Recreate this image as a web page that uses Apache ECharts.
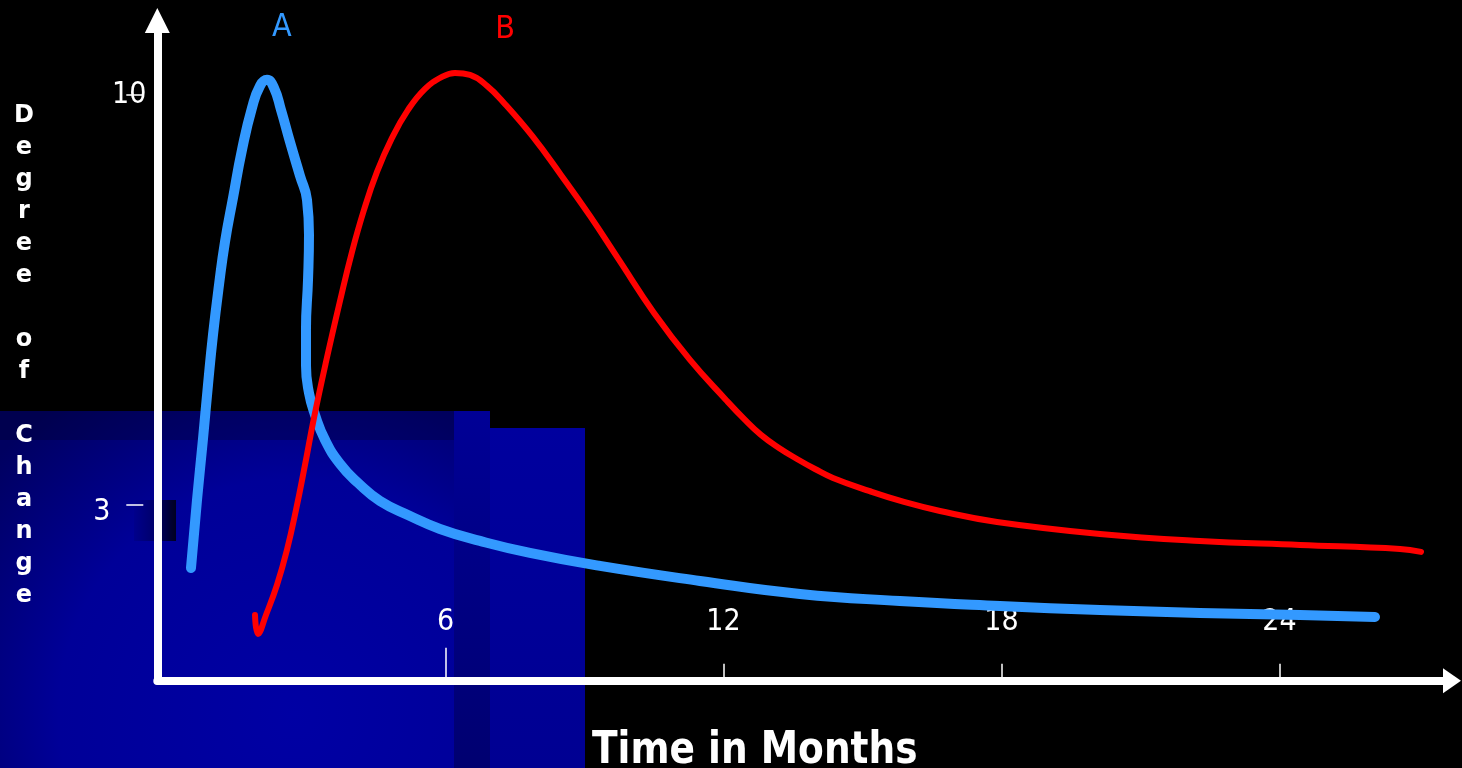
<!DOCTYPE html>
<html>
<head>
<meta charset="utf-8">
<script src="https://cdn.jsdelivr.net/npm/echarts@6/dist/echarts.min.js"></script>
<style>
html,body{margin:0;padding:0;background:#000;}
#chart{width:1462px;height:768px;}
</style>
</head>
<body>
<div id="chart"></div>
<script>
// ---- data ----
const curveNames = ['A', 'B'];
const aMonths = [0.507,0.637,0.766,0.874,0.982,1.112,1.241,1.414,1.608,1.824,1.997,2.148,2.299,2.450,2.644,2.860,3.011,3.054,3.033,2.989,2.989,3.054,3.184,3.400,3.724,4.112,4.587,5.235,5.882,6.745,7.824,9.335,11.493,13.651,15.810,17.968,20.127,22.285,24.444,26.063];
const aDegree = [1.924,3.085,4.127,5.049,5.903,6.757,7.491,8.242,9.062,9.779,10.155,10.257,10.120,9.745,9.198,8.618,8.208,7.611,6.842,5.988,5.391,4.913,4.538,4.111,3.701,3.376,3.069,2.813,2.591,2.386,2.181,1.959,1.703,1.481,1.361,1.276,1.208,1.157,1.122,1.088];
const bMonths = [1.889,1.953,2.126,2.363,2.578,2.774,2.968,3.162,3.421,3.724,3.982,4.241,4.522,4.846,5.191,5.558,5.925,6.205,6.529,6.896,7.263,7.889,8.493,9.119,9.745,10.501,11.278,12.055,12.444,12.810,13.199,13.587,13.976,14.364,15.141,15.897,16.674,17.904,20.127,22.285,24.444,26.603,27.056];
const bDegree = [1.122,0.797,1.122,1.634,2.231,2.914,3.683,4.485,5.441,6.483,7.319,8.036,8.685,9.266,9.744,10.102,10.307,10.375,10.342,10.154,9.863,9.283,8.634,7.934,7.183,6.278,5.476,4.793,4.469,4.196,3.973,3.785,3.614,3.461,3.239,3.051,2.897,2.710,2.505,2.385,2.317,2.249,2.198];
const xTickValues = [6, 12, 18, 24];
const yTickValues = [3, 10];
const curveLabelPos = [[2.47, 11.14], [7.29, 11.11]];
const xTitle = 'Time in Months';
const yTitle = 'Degree of Change';

// ---- build ----
const pairs = (xs, ys) => xs.map((x, i) => [x, ys[i]]);
const X_MIN = -0.22, X_MAX = 27.725, Y_MIN = 0, Y_MAX = 11.27;
const labelFont = '"DejaVu Sans Condensed", "DejaVu Sans", sans-serif';

const chart = echarts.init(document.getElementById('chart'));
const stacked = yTitle.split('').map(c => c === ' ' ? '' : c).join('\n');

chart.setOption({
  backgroundColor: '#000000',
  animation: false,
  grid: { left: 157.3, right: 10, top: 20.5, bottom: 87.3 },
  graphic: [
    { type: 'rect', z: -10, shape: { x: 0, y: 411, width: 490, height: 357 },
      style: { fill: new echarts.graphic.RadialGradient(0.6, 0.85, 1.1, [
        { offset: 0, color: '#0000a4' }, { offset: 0.6, color: '#000098' }, { offset: 1, color: '#000060' }]) } },
    { type: 'rect', z: -10, shape: { x: 0, y: 411, width: 490, height: 29 },
      style: { fill: 'rgba(0,0,40,0.3)' } },
    { type: 'rect', z: -9, shape: { x: 454, y: 411, width: 36, height: 357 },
      style: { fill: new echarts.graphic.LinearGradient(0, 0, 0, 1, [
        { offset: 0, color: '#000096' }, { offset: 1, color: '#000070' }]) } },
    { type: 'rect', z: -10, shape: { x: 490, y: 428, width: 95, height: 340 },
      style: { fill: new echarts.graphic.LinearGradient(0, 0, 0, 1, [
        { offset: 0, color: '#00009e' }, { offset: 1, color: '#000092' }]) } },
    { type: 'rect', z: -8, shape: { x: 134, y: 500, width: 42, height: 41 },
      style: { fill: new echarts.graphic.LinearGradient(0, 0, 1, 0, [
        { offset: 0, color: '#00008c' }, { offset: 0.5, color: '#00006a' }, { offset: 1, color: '#000020' }]) } },
    { type: 'text', z: 20, x: 24, y: 100,
      style: { text: stacked, fill: '#ffffff', font: 'bold 24px "DejaVu Sans", sans-serif',
        lineHeight: 32, align: 'center', verticalAlign: 'top' } },
    { type: 'text', z: 20, x: 592, y: 752, scaleX: 0.853, originX: 0, originY: 0,
      style: { text: xTitle, fill: '#ffffff', font: 'bold 44px "DejaVu Sans", sans-serif',
        align: 'left', verticalAlign: 'middle' } }
  ],
  xAxis: [
    { type: 'value', min: X_MIN, max: X_MAX, z: 5,
      splitLine: { show: false },
      axisLine: { show: true, onZero: false, symbol: ['none', 'triangle'], symbolSize: [25, 18],
        lineStyle: { color: '#ffffff', width: 8 } },
      axisTick: { show: true, inside: true, length: 17, customValues: xTickValues.slice(1),
        lineStyle: { color: '#ffffff', width: 1.5 } },
      axisLabel: { show: true, inside: true, margin: 43, customValues: xTickValues,
        color: '#ffffff', fontSize: 30, fontFamily: labelFont } },
    { type: 'value', min: X_MIN, max: X_MAX, position: 'bottom', z: 5,
      splitLine: { show: false },
      axisLine: { show: false, onZero: false },
      axisTick: { show: true, inside: true, length: 33, customValues: [xTickValues[0]],
        lineStyle: { color: '#ffffff', width: 1.5 } },
      axisLabel: { show: false } }
  ],
  yAxis: [
    { type: 'value', min: Y_MIN, max: Y_MAX, z: 5,
      splitLine: { show: false },
      axisLine: { show: true, onZero: false, symbol: ['none', 'triangle'], symbolSize: [25, 25],
        lineStyle: { color: '#ffffff', width: 8 } },
      axisTick: { show: false },
      axisLabel: { show: true, margin: 11, customValues: yTickValues,
        formatter: v => v === yTickValues[0] ? '{low|' + v + '}' : '{top|' + v + '}',
        rich: {
          low: { color: '#ffffff', fontSize: 30, fontFamily: labelFont, padding: [14, 36, 0, 0] },
          top: { color: '#ffffff', fontSize: 30, fontFamily: labelFont }
        } } },
    { type: 'value', min: Y_MIN, max: Y_MAX, position: 'left', offset: 14, z: 6,
      splitLine: { show: false },
      axisLine: { show: false, onZero: false },
      axisTick: { show: true, inside: false, length: 17, customValues: yTickValues,
        lineStyle: { color: '#ffffff', width: 1.5 } },
      axisLabel: { show: false } }
  ],
  series: [
    { name: curveNames[0], type: 'line', xAxisIndex: 0, yAxisIndex: 0, z: 10,
      data: pairs(aMonths, aDegree), smooth: 0.5, showSymbol: false, symbol: 'none',
      lineStyle: { color: '#3399ff', width: 10, cap: 'round', join: 'round' },
      markPoint: { symbol: 'circle', symbolSize: 0, silent: true,
        label: { show: true, position: 'inside', formatter: curveNames[0], color: '#3399ff',
          fontSize: 32, fontFamily: labelFont },
        data: [{ coord: curveLabelPos[0] }] } },
    { name: curveNames[1], type: 'line', xAxisIndex: 0, yAxisIndex: 0, z: 11,
      data: pairs(bMonths, bDegree), smooth: 0.45, showSymbol: false, symbol: 'none',
      lineStyle: { color: '#ff0000', width: 6, cap: 'round', join: 'round' },
      markPoint: { symbol: 'circle', symbolSize: 0, silent: true,
        label: { show: true, position: 'inside', formatter: curveNames[1], color: '#ff0000',
          fontSize: 32, fontFamily: labelFont },
        data: [{ coord: curveLabelPos[1] }] } }
  ]
});
</script>
</body>
</html>
